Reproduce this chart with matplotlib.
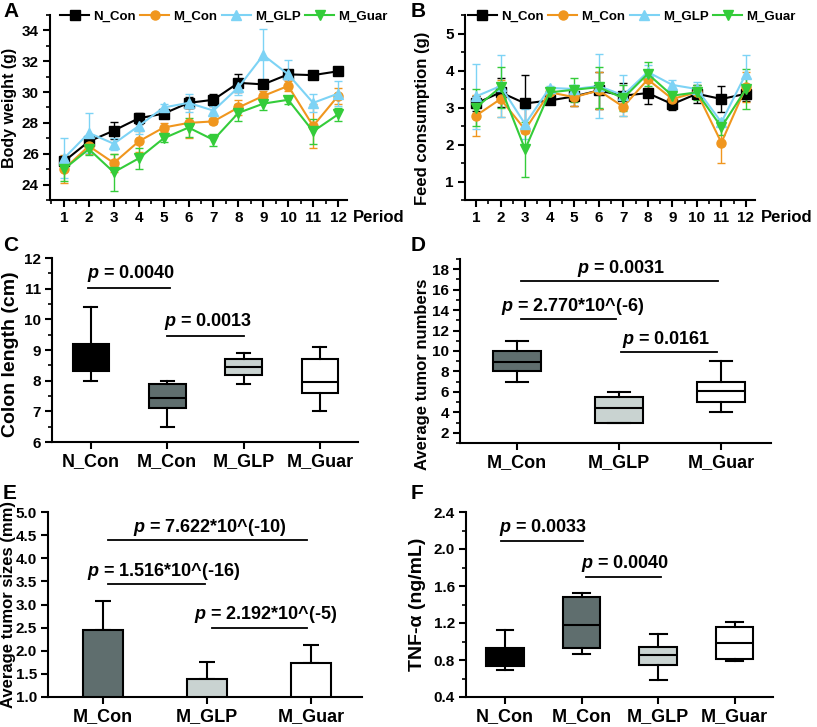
import numpy as np
import matplotlib
matplotlib.use("Agg")
import matplotlib.pyplot as plt
from matplotlib.lines import Line2D
from matplotlib.ticker import MultipleLocator, FormatStrFormatter

plt.rcParams["font.family"] = ["Liberation Sans", "DejaVu Sans"]
plt.rcParams["font.weight"] = "bold"
plt.rcParams["axes.labelweight"] = "bold"
plt.rcParams["mathtext.fontset"] = "custom"
plt.rcParams["mathtext.rm"] = "Liberation Sans:bold"
plt.rcParams["mathtext.bf"] = "Liberation Sans:bold"
plt.rcParams["mathtext.it"] = "Liberation Sans:italic:bold"
plt.rcParams["mathtext.bfit"] = "Liberation Sans:italic:bold"

# -----------------------------
# data
# -----------------------------
groups = ["N_Con", "M_Con", "M_GLP", "M_Guar"]
periods = list(range(1, 13))

# A: body weight (g)
bw_ncon = [25.5, 26.8, 27.5, 28.3, 28.6, 29.3, 29.5, 30.6, 30.5, 31.15, 31.1, 31.35]
bw_ncon_err = [0.3, 0.3, 0.55, 0.35, 0.15, 0.35, 0.4, 0.6, 0.2, 0.2, 0.15, 0.15]
bw_mcon = [25.0, 26.5, 25.4, 26.8, 27.7, 28.0, 28.1, 29.0, 29.75, 30.4, 27.8, 29.75]
bw_mcon_err = [0.9, 0.5, 0.6, 0.7, 0.3, 1.0, 0.2, 0.5, 0.3, 0.3, 1.4, 0.5]
bw_mglp = [25.7, 27.35, 26.65, 27.8, 29.0, 29.3, 28.8, 30.3, 32.4, 31.15, 29.3, 29.9]
bw_mglp_err = [1.3, 1.3, 0.4, 0.5, 0.2, 0.6, 0.3, 0.5, 1.7, 0.9, 0.6, 0.8]
bw_mguar = [25.0, 26.3, 24.8, 25.7, 27.0, 27.7, 26.9, 28.65, 29.25, 29.5, 27.45, 28.55]
bw_mguar_err = [0.8, 0.4, 1.2, 0.7, 0.25, 0.6, 0.4, 0.55, 0.4, 0.25, 0.8, 0.4]

# B: feed consumption (g)
fc_ncon = [3.11, 3.41, 3.11, 3.19, 3.30, 3.46, 3.32, 3.39, 3.09, 3.37, 3.23, 3.37]
fc_ncon_err = [0.2, 0.4, 0.77, 0.05, 0.25, 0.5, 0.35, 0.3, 0.15, 0.25, 0.35, 0.2]
fc_mcon = [2.78, 3.23, 2.40, 3.41, 3.28, 3.46, 3.02, 3.76, 3.23, 3.41, 2.05, 3.55]
fc_mcon_err = [0.55, 0.5, 0.1, 0.05, 0.25, 0.5, 0.25, 0.25, 0.1, 0.1, 0.55, 0.4]
fc_mglp = [3.30, 3.58, 2.55, 3.53, 3.50, 3.58, 3.33, 3.96, 3.61, 3.50, 2.60, 3.91]
fc_mglp_err = [0.88, 0.85, 0.4, 0.05, 0.1, 0.87, 0.55, 0.2, 0.12, 0.2, 0.1, 0.5]
fc_mguar = [3.0, 3.55, 1.87, 3.41, 3.48, 3.55, 3.25, 3.91, 3.32, 3.41, 2.47, 3.5]
fc_mguar_err = [0.5, 0.55, 0.75, 0.05, 0.33, 0.55, 0.35, 0.33, 0.15, 0.2, 0.2, 0.55]

# C: colon length (cm), box stats
colon_lo = [8.0, 6.5, 7.9, 7.0]
colon_q1 = [8.3, 7.1, 8.2, 7.6]
colon_med = [8.8, 7.45, 8.43, 7.97]
colon_q3 = [9.2, 7.9, 8.7, 8.7]
colon_hi = [10.4, 8.0, 8.9, 9.1]

# D: average tumor numbers
tumor_groups = ["M_Con", "M_GLP", "M_Guar"]
num_lo = [7, 3, 4]
num_q1 = [8, 3, 5]
num_med = [8.9, 4.4, 6.1]
num_q3 = [10, 5.5, 7]
num_hi = [11, 6, 9]

# E: average tumor sizes (mm)
size_mean = [2.44, 1.40, 1.74]
size_sd = [0.63, 0.36, 0.38]

# F: TNF-a (ng/mL)
tnf_lo = [0.69, 0.87, 0.58, 0.79]
tnf_q1 = [0.74, 0.93, 0.75, 0.81]
tnf_med = [0.80, 1.18, 0.85, 0.98]
tnf_q3 = [0.93, 1.48, 0.94, 1.16]
tnf_hi = [1.12, 1.52, 1.08, 1.21]

line_colors = ["black", "#f0961e", "#7dd3f5", "#34cc3a"]
markers = ["s", "o", "^", "v"]
box_colors = ["black", "#5f6e6e", "#c9d3d1", "white"]

W, H = 817, 727
fig = plt.figure(figsize=(W / 100, H / 100), dpi=100)


def px_axes(l, t, r, b):
    return fig.add_axes([l / W, 1 - b / H, (r - l) / W, (b - t) / H])


def style(ax):
    for s in ["top", "right"]:
        ax.spines[s].set_visible(False)
    for s in ["left", "bottom"]:
        ax.spines[s].set_linewidth(1.5)
    ax.tick_params(which="major", width=1.5, length=5, labelsize=11, pad=3)
    ax.tick_params(which="minor", width=1.2, length=3)


def sig(ax, x1, x2, y, txt, tx, fs=13, off=6):
    ax.plot([x1, x2], [y, y], color="black", lw=1.3)
    ax.annotate(r"$\bfit{p}$ = " + txt, xy=(tx, y), xytext=(0, off),
                textcoords="offset points", ha="center", va="baseline",
                fontsize=fs, fontweight="bold")


# -----------------------------
# A & B: line charts
# -----------------------------
def line_panel(ax, series, errs, ylab, ysize):
    style(ax)
    for i, (v, e) in enumerate(zip(series, errs)):
        ms = 6.5 if markers[i] in "so" else 7.5
        ax.errorbar(periods, v, yerr=e, color=line_colors[i], marker=markers[i],
                    ms=ms, lw=1.5, elinewidth=1, capsize=3, capthick=1,
                    label=groups[i])
    ax.set_xticks(periods)
    ax.xaxis.set_minor_locator(MultipleLocator(0.5))
    ax.set_ylabel(ylab, fontsize=ysize)
    ax.text(1.02, -0.097, "Period", transform=ax.transAxes, ha="left",
            va="center", fontsize=12, fontweight="bold")


axA = px_axes(50, 15, 347, 200)
line_panel(axA, [bw_ncon, bw_mcon, bw_mglp, bw_mguar],
           [bw_ncon_err, bw_mcon_err, bw_mglp_err, bw_mguar_err], "Body weight (g)", 11.5)
axA.set_xlim(0.44, 12.36)
axA.set_ylim(23, 35)
axA.yaxis.set_major_locator(MultipleLocator(2))
axA.yaxis.set_minor_locator(MultipleLocator(1))
axA.yaxis.set_label_coords(-0.112, 0.5)

axB = px_axes(465, 15, 755, 200)
line_panel(axB, [fc_ncon, fc_mcon, fc_mglp, fc_mguar],
           [fc_ncon_err, fc_mcon_err, fc_mglp_err, fc_mguar_err], "Feed consumption (g)", 12)
axB.set_xlim(0.55, 12.37)
axB.set_ylim(0.5, 5.5)
axB.yaxis.set_major_locator(MultipleLocator(1))
axB.yaxis.set_minor_locator(MultipleLocator(0.5))
axB.yaxis.set_label_coords(-0.12, 0.44)

for ax, x0 in [(axA, 0.034), (axB, 0.01)]:
    handles = [Line2D([], [], color=line_colors[i], marker=markers[i], lw=1.5,
                      ms=6.5 if markers[i] in "so" else 7.5) for i in range(4)]
    ax.legend(handles, groups, loc="center left", bbox_to_anchor=(x0, 0.99),
              ncol=4, frameon=False, fontsize=9.5, handlelength=2.2,
              columnspacing=0.35, handletextpad=0.3, borderaxespad=0, borderpad=0)


# -----------------------------
# box panels
# -----------------------------
def box_panel(ax, lo, q1, med, q3, hi, colors, width, capw):
    style(ax)
    stats = [dict(whislo=a, q1=b, med=c, q3=d, whishi=e, fliers=[])
             for a, b, c, d, e in zip(lo, q1, med, q3, hi)]
    pos = list(range(1, len(stats) + 1))
    bp = ax.bxp(stats, positions=pos, widths=width, patch_artist=True,
                showfliers=False, capwidths=capw,
                boxprops=dict(linewidth=1.5, edgecolor="black"),
                medianprops=dict(color="black", linewidth=1.5),
                whiskerprops=dict(linewidth=1.5, color="black"),
                capprops=dict(linewidth=1.5, color="black"))
    for patch, c in zip(bp["boxes"], colors):
        patch.set_facecolor(c)
    ax.tick_params(axis="x", labelsize=13)


axC = px_axes(52, 258, 358, 442)
box_panel(axC, colon_lo, colon_q1, colon_med, colon_q3, colon_hi, box_colors, 0.48, 0.17)
axC.set_xticks([1, 2, 3, 4], groups)
axC.set_xlim(0.49, 4.5)
axC.set_ylim(6, 12)
axC.yaxis.set_major_locator(MultipleLocator(1))
axC.yaxis.set_minor_locator(MultipleLocator(0.5))
axC.set_ylabel("Colon length (cm)", fontsize=14)
axC.yaxis.set_label_coords(-0.108, 0.475)
sig(axC, 0.96, 2.04, 11.02, "0.0040", 1.53, off=7)
sig(axC, 2.0, 3.0, 9.46, "0.0013", 2.54, off=7)

axD = px_axes(460, 259, 771, 443)
box_panel(axD, num_lo, num_q1, num_med, num_q3, num_hi, box_colors[1:], 0.47, 0.21)
axD.set_xticks([1, 2, 3], tumor_groups)
axD.set_xlim(0.44, 3.49)
axD.set_ylim(1, 19)
axD.yaxis.set_major_locator(MultipleLocator(2))
axD.yaxis.set_minor_locator(MultipleLocator(1))
axD.set_ylabel("Average tumor numbers", fontsize=12)
axD.yaxis.set_label_coords(-0.096, 0.375)
sig(axD, 1.04, 2.97, 16.8, "0.0031", 2.02)
sig(axD, 1.04, 1.97, 13.1, "2.770*10^(-6)", 1.55)
sig(axD, 2.02, 2.96, 9.9, "0.0161", 2.46)

# -----------------------------
# E: bar chart
# -----------------------------
axE = px_axes(48, 512, 362, 697)
style(axE)
xE = [1, 2, 3]
axE.bar(xE, size_mean, width=0.38, color=box_colors[1:], edgecolor="black",
        linewidth=1.5, zorder=2)
axE.errorbar(xE, size_mean, yerr=[[0, 0, 0], size_sd], fmt="none", ecolor="black",
             elinewidth=1.5, capsize=6, capthick=1.5, zorder=1)
axE.set_xticks(xE, tumor_groups)
axE.tick_params(axis="x", labelsize=13)
axE.set_xlim(0.47, 3.49)
axE.set_ylim(1, 5)
axE.yaxis.set_major_locator(MultipleLocator(0.5))
axE.yaxis.set_major_formatter(FormatStrFormatter("%.1f"))
axE.set_ylabel("Average tumor sizes (mm)", fontsize=12)
axE.yaxis.set_label_coords(-0.103, 0.5)
sig(axE, 1.05, 2.96, 4.39, "7.622*10^(-10)", 2.03)
sig(axE, 1.05, 1.98, 3.44, "1.516*10^(-16)", 1.58)
sig(axE, 2.05, 2.96, 2.5, "2.192*10^(-5)", 2.56)

# -----------------------------
# F: TNF-a
# -----------------------------
axF = px_axes(466, 512, 773, 697)
box_panel(axF, tnf_lo, tnf_q1, tnf_med, tnf_q3, tnf_hi, box_colors, 0.49, 0.22)
axF.set_xticks([1, 2, 3, 4], groups)
axF.set_xlim(0.49, 4.5)
axF.set_ylim(0.4, 2.4)
axF.yaxis.set_major_locator(MultipleLocator(0.4))
axF.yaxis.set_minor_locator(MultipleLocator(0.2))
axF.yaxis.set_major_formatter(FormatStrFormatter("%.1f"))
axF.set_ylabel("TNF-α (ng/mL)", fontsize=14)
axF.yaxis.set_label_coords(-0.13, 0.5)
sig(axF, 0.95, 2.02, 2.09, "0.0033", 1.5)
sig(axF, 2.06, 3.04, 1.70, "0.0040", 2.57)

# panel letters
for lab, x, y in [("A", 3, 2), ("B", 411, 2), ("C", 3, 236), ("D", 411, 236),
                  ("E", 3, 484), ("F", 411, 484)]:
    fig.text(x / W, 1 - y / H, lab, ha="left", va="top", fontsize=15, fontweight="bold")

plt.savefig("out.png", dpi=100)
